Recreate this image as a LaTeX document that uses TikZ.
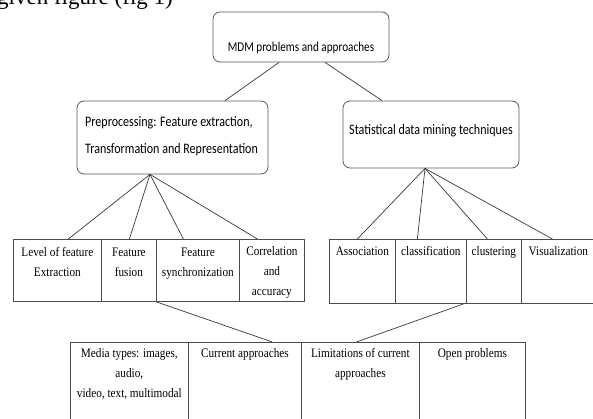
\documentclass[tikz,border=0pt]{standalone}
\usepackage{fontspec}
\setmainfont{Liberation Serif}
\newfontfamily\calib[FakeStretch=0.83]{Carlito}
\newfontfamily\tnr[FakeStretch=0.865]{Liberation Serif}
\usetikzlibrary{calc}
\begin{document}
\begin{tikzpicture}[x=1pt,y=-1pt,
  rbox/.style={draw=black!65, rounded corners=7pt, line width=0.8pt, inner sep=0},
  cell/.style={draw=black!70, line width=0.75pt, inner sep=0, anchor=north west},
  ctext/.style={font=\tnr\fontsize{13}{20}\selectfont, align=center, anchor=base, inner sep=0},
  ptext/.style={font=\calib\fontsize{14.5}{27}\selectfont, inner sep=0},
  conn/.style={draw=black!78, line width=0.7pt}]
\useasboundingbox (0,0) rectangle (593,419);

% partially visible caption line from the page
\node[font=\fontsize{23}{23}\selectfont, anchor=base east, inner sep=0] (cap) at (173,5) {given figure (fig 1)};

% rounded boxes
\node[rbox, minimum width=176, minimum height=50] (mdm) at (301,37) {};
\node[font=\calib\fontsize{13.5}{15}\selectfont, anchor=base, inner sep=0] (mdml) at (301,51.5) {MDM problems and approaches};
\node[rbox, minimum width=191, minimum height=73] (pre) at (172.5,137.5) {};
\node[ptext, anchor=base west, align=left] (prel) at (85,153.5) {Preprocessing: Feature extraction,\\Transformation and Representation};
\node[rbox, minimum width=176, minimum height=67] (stat) at (431,134.5) {};
\node[ptext, anchor=base] (statl) at (431,134.5) {Statistical data mining techniques};

% left table
\node[cell, minimum width=88, minimum height=62] (c1) at (13,239) {};
\node[cell, minimum width=55, minimum height=62] (c2) at (101,239) {};
\node[cell, minimum width=83, minimum height=62] (c3) at (156,239) {};
\node[cell, minimum width=65, minimum height=62] (c4) at (239,239) {};
\node[ctext] (c1t) at ([yshift=-37]c1.north) {Level of feature\\Extraction};
\node[ctext] (c2t) at ([yshift=-37]c2.north) {Feature\\fusion};
\node[ctext] (c3t) at ([yshift=-37]c3.north) {Feature\\synchronization};
\node[ctext] (c4t) at ([yshift=-56]c4.north) {Correlation\\and\\accuracy};

% right table
\node[cell, minimum width=66, minimum height=64] (r1) at (329,239) {};
\node[cell, minimum width=71, minimum height=64] (r2) at (395,239) {};
\node[cell, minimum width=55, minimum height=64] (r3) at (466,239) {};
\node[cell, minimum width=74, minimum height=64] (r4) at (521,239) {};
\node[ctext] (r1t) at ([yshift=-16]r1.north) {Association};
\node[ctext] (r2t) at ([yshift=-16]r2.north) {classification};
\node[ctext] (r3t) at ([yshift=-16]r3.north) {clustering};
\node[ctext] (r4t) at ([yshift=-16]r4.north) {Visualization};

% bottom table
\node[cell, minimum width=118, minimum height=90] (b1) at (70,342) {};
\node[cell, minimum width=113, minimum height=90] (b2) at (188,342) {};
\node[cell, minimum width=118, minimum height=90] (b3) at (301,342) {};
\node[cell, minimum width=106, minimum height=90] (b4) at (419,342) {};
\node[ctext] (b1t) at ([yshift=-55]b1.north) {Media types: images,\\audio,\\video, text, multimodal};
\node[ctext] (b2t) at ([yshift=-15]b2.north) {Current approaches};
\node[ctext] (b3t) at ([yshift=-35]b3.north) {Limitations of current\\approaches};
\node[ctext] (b4t) at ([yshift=-15]b4.north) {Open problems};

% connectors
\draw[conn] ([xshift=-22]mdm.south) -- ([xshift=52.5]pre.north);
\draw[conn] ([xshift=24]mdm.south) -- ([xshift=-49]stat.north);

\draw[conn] ([xshift=-22.5]pre.south) -- ([xshift=11]c1.north);
\draw[conn] ([xshift=-22.5]pre.south) -- ([xshift=0.5]c2.north);
\draw[conn] ([xshift=-22.5]pre.south) -- ([xshift=-14.5]c3.north);
\draw[conn] ([xshift=-22.5]pre.south) -- ([xshift=-14.5]c4.north);

\draw[conn] ([xshift=-6]stat.south) -- ([xshift=-5]r1.north);
\draw[conn] ([xshift=-6]stat.south) -- ([xshift=-13.5]r2.north);
\draw[conn] ([xshift=-6]stat.south) -- ([xshift=-6.5]r3.north);
\draw[conn] ([xshift=-6]stat.south) -- ([xshift=-6]r4.north);

\draw[conn] (c3.south west) -- ([xshift=27.5]b2.north);
\draw[conn] ([xshift=-2]r3.south west) -- ([xshift=-4]b3.north);
\end{tikzpicture}
\end{document}
